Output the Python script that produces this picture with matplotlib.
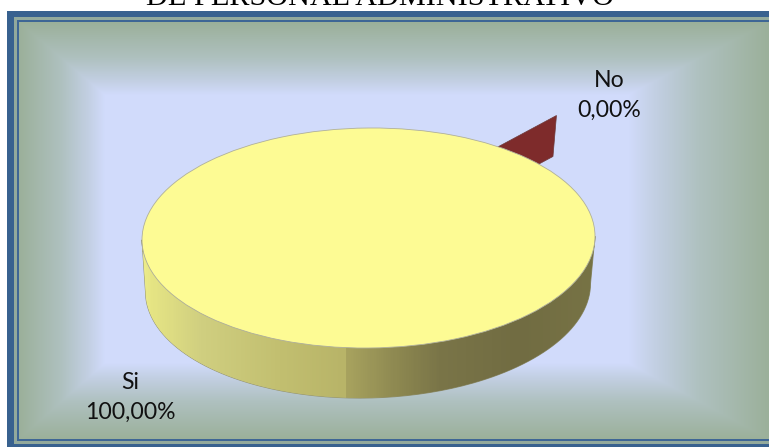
import numpy as np
import matplotlib
matplotlib.use("Agg")
import matplotlib.pyplot as plt
from matplotlib.colors import LinearSegmentedColormap
from matplotlib.patches import Rectangle, PathPatch, Polygon
from matplotlib.path import Path
from matplotlib.transforms import Affine2D

# Survey result
categories = ["Si", "No"]
percentages = [100.0, 0.0]
label_texts = ["Si\n100,00%", "No\n0,00%"]
title_text = "DE PERSONAL ADMINISTRATIVO"

W, H = 769, 447
fig = plt.figure(figsize=(W / 100, H / 100), dpi=100, facecolor="white")
ax = fig.add_axes([0, 0, 1, 1])

# Pie drawn first: ax.pie resets the limits, which are fixed further down
START_ANGLE = 47.4
wedges, _ = ax.pie(percentages, colors=["#fdfb94", "#7e2b2b"], startangle=START_ANGLE,
                   counterclock=True, normalize=True,
                   wedgeprops={"edgecolor": "#b0b09a", "linewidth": 0.6})
ax.set_aspect("auto")
ax.set_xlim(0, W)
ax.set_ylim(H, 0)
ax.axis("off")


def rim_transform(cx, cy, rx, ry, shear):
    """Unit circle to an ellipse in pixels, sheared a little for the 3-D tilt."""
    return Affine2D.from_values(rx, shear * rx, 0, -ry, cx, cy)


top_rim = rim_transform(368.5, 238.0, 226.5, 110.0, -0.008)
base_rim = rim_transform(368.0, 287.5, 222.5, 110.5, -0.018)

# Frame: thick blue band, pale green gap, thin blue line
BLUE, GAP = "#38618f", "#92a99c"
ax.add_patch(Rectangle((7, 11), W, H, fc=BLUE, ec="none", zorder=0))
ax.add_patch(Rectangle((14, 17), W, 427, fc=GAP, ec="none", zorder=0.1))
ax.add_patch(Rectangle((17, 19.5), W, 421.5, fc="#3e6695", ec="none", zorder=0.2))

# Rectangular path gradient behind the pie
L, R, T, B = 19, 769, 22, 439
PL, PR, PT, PB = 105, 628, 95, 363
xs = np.arange(L, R) + 0.5
ys = np.arange(T, B) + 0.5
gx, gy = np.meshgrid(xs, ys)
ramp = np.minimum.reduce([(gx - L) / (PL - L), (R - gx) / (R - PR),
                          (gy - T) / (PT - T), (B - gy) / (B - PB)]).clip(0, 1)
back_cmap = LinearSegmentedColormap.from_list(
    "backdrop", [(0, "#9bb09a"), (0.5, "#afc1c0"), (0.8, "#c2cfe2"), (1, "#d1dbfb")])
ax.imshow(ramp, extent=(L, R, B, T), cmap=back_cmap, vmin=0, vmax=1,
          aspect="auto", zorder=0.3, interpolation="bilinear")

# Side wall of the large slice: front half of the top rim joined to the base rim
theta = np.radians(np.linspace(180, 360, 181))
circle = np.column_stack([np.cos(theta), np.sin(theta)])
upper = top_rim.transform(circle)
lower = base_rim.transform(circle)
wall_path = Path(np.vstack([upper, lower[::-1], upper[:1]]), closed=False)
ax.add_patch(PathPatch(wall_path, fc="none", ec="#8f8f70", lw=0.7, zorder=1))
shade_x = [142, 150, 200, 280, 345, 346, 400, 440, 520, 595]
shade = ["#eded8a", "#e6e584", "#d0cf80", "#c2bf70", "#b8b468", "#a8a35f",
         "#8c8750", "#7a7548", "#716c42", "#777345"]
wall_cmap = LinearSegmentedColormap.from_list(
    "wall", [((x - 142) / (595 - 142), c) for x, c in zip(shade_x, shade)])
img = ax.imshow(np.linspace(0, 1, 453)[None, :], extent=(142, 595, 420, 200),
                cmap=wall_cmap, aspect="auto", zorder=1.1)
img.set_clip_path(wall_path, ax.transData)
ax.set_xlim(0, W)
ax.set_ylim(H, 0)

# Top face of the large slice
wedges[0].set_transform(top_rim + ax.transData)
wedges[0].set_zorder(3)

# The empty slice has no sweep, so only its cut face shows, pulled out from the pie
cut_angle = np.radians(START_ANGLE + 3.6 * percentages[0])
half_sweep = np.radians(3.6 * percentages[1])
direction = np.array([np.cos(cut_angle + half_sweep), np.sin(cut_angle + half_sweep)])
PULL = np.array([0.153, 0.364])
apex, tip = top_rim.transform(np.vstack([PULL, PULL + direction]))
cut_face = Polygon([apex, tip, tip + [-3.5, 41], apex + [-3.5, 41]], closed=True,
                   fc=wedges[1].get_facecolor(), ec="#6d3a3a", lw=0.5, zorder=2)
ax.add_patch(cut_face)
wedges[1].set_visible(False)

# Data labels and the heading running off the top edge
label_font = dict(family="Lato", fontsize=16.6, color="#111111", ha="center",
                  va="center", linespacing=1.5, multialignment="center", zorder=5)
ax.text(130, 397.5, label_texts[0], **label_font)
ax.text(609, 95.5, label_texts[1], **label_font)
ax.text(380.5, 5, title_text, family="Liberation Serif", fontsize=21.8, color="black",
        ha="center", va="baseline", zorder=5)

fig.savefig("out.png", dpi=100)
